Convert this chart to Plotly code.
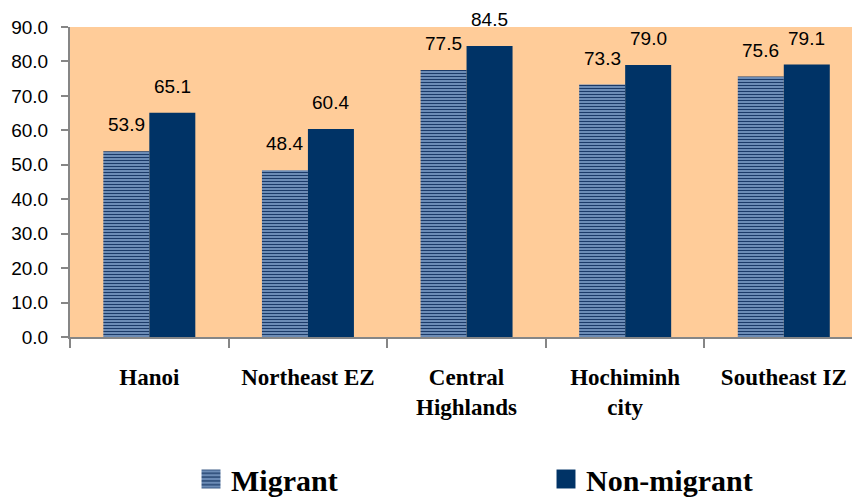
import plotly.graph_objects as go

categories = ["Hanoi", "Northeast EZ", "Central<br>Highlands", "Hochiminh<br>city", "Southeast IZ"]
migrant = [53.9, 48.4, 77.5, 73.3, 75.6]
non_migrant = [65.1, 60.4, 84.5, 79.0, 79.1]
y_ticks = [0, 10, 20, 30, 40, 50, 60, 70, 80, 90]

fig = go.Figure()
fig.add_trace(go.Bar(
    name="Migrant", x=categories, y=migrant, legend="legend",
    marker=dict(
        color="#6A8AB4",
        line=dict(width=0),
        pattern=dict(shape="-", bgcolor="#6C8CB6", fgcolor="#1B3A68",
                     size=3, solidity=0.34, fillmode="replace"),
    ),
))
fig.add_trace(go.Bar(
    name="Non-migrant", x=categories, y=non_migrant, legend="legend2",
    marker=dict(color="#003366", line=dict(width=0)),
))

# data labels
for cat, mv, nv in zip(categories, migrant, non_migrant):
    for val, xs in ((mv, -23), (nv, 23)):
        fig.add_annotation(
            x=cat, y=val, xref="x", yref="y", text=f"{val:.1f}",
            showarrow=False, xshift=xs, yshift=14, yanchor="bottom",
            font=dict(family="Liberation Sans, Arial", size=19, color="black"),
        )

legend_font = dict(family="Liberation Serif, Times New Roman", size=30,
                   color="black", weight="bold")
fig.update_layout(
    width=852, height=500,
    margin=dict(l=70, r=0, t=27, b=163, autoexpand=False),
    paper_bgcolor="white", plot_bgcolor="#FFCC99",
    barmode="group", bargap=0.42, bargroupgap=0,
    showlegend=True,
    legend=dict(
        orientation="h", xref="container", yref="container",
        x=191 / 852, xanchor="left", y=0.042, yanchor="middle",
        font=legend_font, bgcolor="rgba(0,0,0,0)",
    ),
    legend2=dict(
        orientation="h", xref="container", yref="container",
        x=546 / 852, xanchor="left", y=0.042, yanchor="middle",
        font=legend_font, bgcolor="rgba(0,0,0,0)",
    ),
)
fig.update_xaxes(
    range=[-0.5, 4.43], automargin=False,
    showline=True, linecolor="#868686", linewidth=2,
    ticks="outside", tickson="boundaries", ticklen=9, tickcolor="#868686", tickwidth=2,
    ticklabelstandoff=18,
    tickfont=dict(family="Liberation Serif, Times New Roman", size=23,
                  color="black", weight="bold"),
    showgrid=False, zeroline=False,
)
fig.update_yaxes(
    range=[0, 90], tickvals=y_ticks, tickformat=".1f", automargin=False,
    showline=True, linecolor="#868686", linewidth=2,
    ticks="outside", ticklen=7, tickcolor="#868686", tickwidth=2,
    ticklabelstandoff=9,
    tickfont=dict(family="Liberation Sans, Arial", size=19, color="black"),
    showgrid=False, zeroline=False,
)

post = """
document.body.style.margin = '0';
document.body.style.overflow = 'hidden';
var gd = document.getElementById('{plot_id}');
gd.querySelectorAll('.legendpoints path').forEach(function (p) {
    var t = p.getAttribute('transform') || '';
    p.setAttribute('transform', t + ' scale(1.58)');
});
"""
fig.write_html("out.html", post_script=post,
               config={"displayModeBar": False, "staticPlot": True})
